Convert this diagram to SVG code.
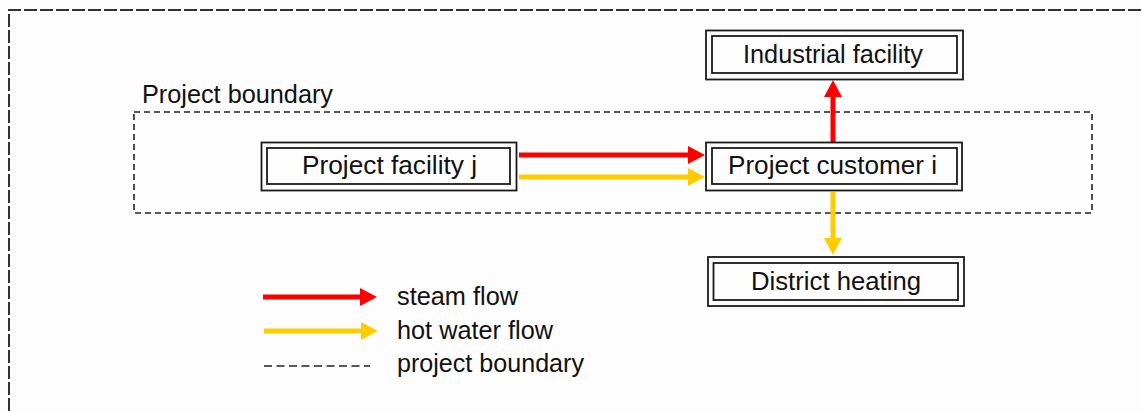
<svg xmlns="http://www.w3.org/2000/svg" width="1142" height="411" viewBox="0 0 1142 411">
  <style>
    .box { fill: none; stroke: #1a1a1a; stroke-width: 1.8; }
    .lbl { font-family: "Liberation Sans", Arial, sans-serif; font-size: 25px; fill: #111; }
    .red { stroke: #ff0000; stroke-width: 5; fill: none; }
    .yel { stroke: #ffcc00; stroke-width: 5; fill: none; }
    .bound { fill: none; stroke: #222; stroke-width: 1.6; stroke-dasharray: 6 4; }
  </style>
  <defs>
    <marker id="ahRed" markerUnits="userSpaceOnUse" viewBox="0 0 17 18" markerWidth="17" markerHeight="18" refX="1" refY="9" orient="auto">
      <path d="M0,0 L17,9 L0,18 z" fill="#ff0000"/>
    </marker>
    <marker id="ahYel" markerUnits="userSpaceOnUse" viewBox="0 0 17 18" markerWidth="17" markerHeight="18" refX="1" refY="9" orient="auto">
      <path d="M0,0 L17,9 L0,18 z" fill="#ffcc00"/>
    </marker>
  </defs>
  <rect width="1142" height="411" fill="#fdfdfd"/>
  <g id="outer-frame">
    <path d="M9,411 V10 H1142" fill="none" stroke="#333" stroke-width="2" stroke-dasharray="13 3"/>
  </g>
  <g id="project-boundary">
    <rect class="bound" x="134" y="112" width="958" height="101"/>
    <text class="lbl" x="142" y="103" textLength="191" lengthAdjust="spacingAndGlyphs">Project boundary</text>
  </g>
  <g id="connectors">
    <line class="red" x1="519" y1="155" x2="689" y2="155" marker-end="url(#ahRed)"/>
    <line class="yel" x1="519" y1="177" x2="689" y2="177" marker-end="url(#ahYel)"/>
    <line class="red" x1="833" y1="142" x2="833" y2="96" marker-end="url(#ahRed)"/>
    <line class="yel" x1="833" y1="192" x2="833" y2="239" marker-end="url(#ahYel)"/>
  </g>
  <g id="node-facility">
    <rect class="box" x="261.5" y="142.5" width="255" height="48"/>
    <rect class="box" x="267" y="148" width="243" height="36"/>
    <text class="lbl" x="302" y="174" textLength="175" lengthAdjust="spacingAndGlyphs">Project facility j</text>
  </g>
  <g id="node-customer">
    <rect class="box" x="706" y="142.5" width="256" height="48"/>
    <rect class="box" x="712" y="148" width="245" height="36"/>
    <text class="lbl" x="728" y="174" textLength="209" lengthAdjust="spacingAndGlyphs">Project customer i</text>
  </g>
  <g id="node-industrial">
    <rect class="box" x="706" y="30.5" width="257" height="49"/>
    <rect class="box" x="712" y="36" width="245" height="37"/>
    <text class="lbl" x="743" y="63" textLength="180" lengthAdjust="spacingAndGlyphs">Industrial facility</text>
  </g>
  <g id="node-district">
    <rect class="box" x="708" y="257" width="256" height="49"/>
    <rect class="box" x="713.5" y="263" width="244.5" height="37"/>
    <text class="lbl" x="751" y="290" textLength="170" lengthAdjust="spacingAndGlyphs">District heating</text>
  </g>
  <g id="legend">
    <line class="red" x1="263" y1="297" x2="361" y2="297" marker-end="url(#ahRed)"/>
    <line class="yel" x1="264" y1="331" x2="362" y2="331" marker-end="url(#ahYel)"/>
    <line x1="264" y1="366" x2="370" y2="366" stroke="#222" stroke-width="1.6" stroke-dasharray="8 4.5"/>
    <text class="lbl" x="397" y="305" textLength="121" lengthAdjust="spacingAndGlyphs">steam flow</text>
    <text class="lbl" x="397" y="339" textLength="156" lengthAdjust="spacingAndGlyphs">hot water flow</text>
    <text class="lbl" x="397" y="372" textLength="187" lengthAdjust="spacingAndGlyphs">project boundary</text>
  </g>
</svg>
